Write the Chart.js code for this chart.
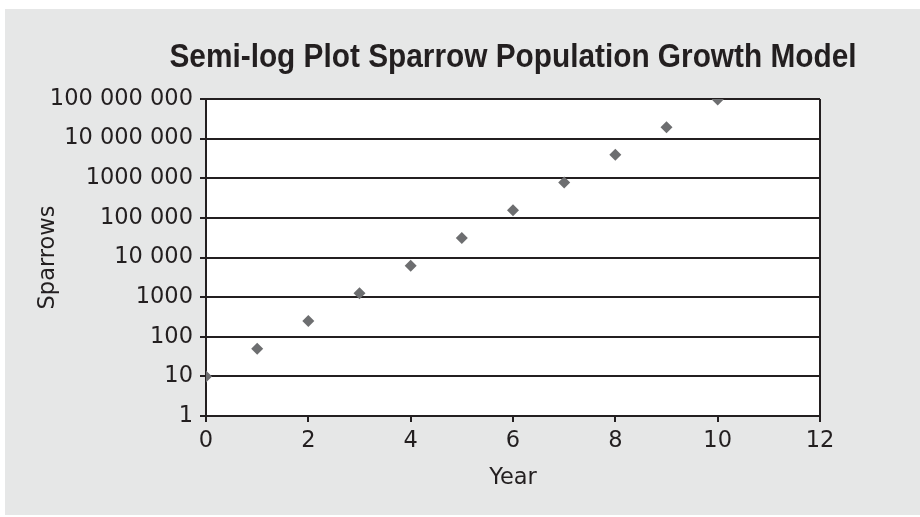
<!DOCTYPE html>
<html>
<head>
<meta charset="utf-8">
<script src="https://cdn.jsdelivr.net/npm/chart.js@4.4.0/dist/chart.umd.min.js"></script>
<style>
  html, body { margin: 0; padding: 0; background: #ffffff; }
  #wrap { width: 920px; height: 517px; }
</style>
</head>
<body>
<div id="wrap"><canvas id="sparrowChart" width="920" height="517"></canvas></div>
<script>
// data
const years = [0, 1, 2, 3, 4, 5, 6, 7, 8, 9, 10];
const sparrows = [10, 50, 250, 1250, 6200, 31000, 155000, 780000, 3900000, 19500000, 97000000];
const yTicks = [1, 10, 100, 1000, 10000, 100000, 1000000, 10000000, 100000000];
const yTickLabels = ['1', '10', '100', '1000', '10 000', '100 000', '1000 000', '10 000 000', '100 000 000'];
const xTicks = [0, 2, 4, 6, 8, 10, 12];
const chartTitle = 'Semi-log Plot Sparrow Population Growth Model';

const ink = '#231f20';
const tickFont = { family: "'DejaVu Sans', 'Open Sans', sans-serif", size: 22.5 };

// gray panel, white plot area, right edge and the condensed title
const framePlugin = {
    id: 'frame',
    beforeDraw(chart) {
        const ctx = chart.ctx;
        const a = chart.chartArea;
        ctx.save();
        ctx.fillStyle = '#ffffff';
        ctx.fillRect(0, 0, chart.width, chart.height);
        ctx.fillStyle = '#e6e7e7';
        ctx.fillRect(5, 9, chart.width - 5, 506);
        ctx.fillStyle = '#ffffff';
        ctx.fillRect(a.left, a.top, a.right - a.left, a.bottom - a.top);
        ctx.restore();
    },
    afterDatasetsDraw(chart) {
        const ctx = chart.ctx;
        const a = chart.chartArea;
        ctx.save();
        ctx.strokeStyle = ink;
        ctx.lineWidth = 2;
        ctx.beginPath();
        ctx.moveTo(a.right, a.top);
        ctx.lineTo(a.right, a.bottom);
        ctx.stroke();

        // title centred over the plot, squeezed to look condensed
        ctx.fillStyle = ink;
        ctx.font = "bold 33px 'Liberation Sans', Arial, sans-serif";
        ctx.textAlign = 'center';
        ctx.textBaseline = 'alphabetic';
        ctx.fillText(chartTitle, (a.left + a.right) / 2, 67, 687);
        ctx.restore();
    }
};

const ctx = document.getElementById('sparrowChart').getContext('2d');
const sparrowChart = new Chart(ctx, {
    type: 'scatter',
    data: {
        datasets: [{
            label: 'Sparrows',
            data: years.map((x, i) => ({ x: x, y: sparrows[i] })),
            pointStyle: 'rectRot',
            pointRadius: 6,
            pointHoverRadius: 6,
            backgroundColor: '#6d6e70',
            borderColor: '#6d6e70',
            borderWidth: 0
        }]
    },
    options: {
        responsive: false,
        animation: false,
        layout: {
            padding: { left: 0, right: 100, top: 99, bottom: 0 }
        },
        plugins: {
            legend: { display: false },
            tooltip: { enabled: false },
            title: { display: false }
        },
        scales: {
            x: {
                type: 'linear',
                min: 0,
                max: 12,
                afterBuildTicks: s => { s.ticks = xTicks.map(v => ({ value: v })); },
                afterFit: s => { s.height = 101; },
                ticks: { color: ink, font: tickFont, padding: 6, maxRotation: 0 },
                grid: { drawOnChartArea: false, drawTicks: true, tickLength: 6, color: ink, lineWidth: 2 },
                border: { display: true, color: ink, width: 2 },
                title: {
                    display: true,
                    text: 'Year',
                    color: ink,
                    font: tickFont,
                    padding: { top: 0, bottom: 25 }
                }
            },
            y: {
                type: 'logarithmic',
                min: 1,
                max: 100000000,
                afterBuildTicks: s => { s.ticks = yTicks.map(v => ({ value: v })); },
                afterFit: s => { s.width = 206; },
                ticks: {
                    color: ink,
                    font: tickFont,
                    padding: 7,
                    callback: (v) => {
                        const i = yTicks.indexOf(v);
                        return i >= 0 ? yTickLabels[i] : '';
                    }
                },
                grid: { drawOnChartArea: true, drawTicks: true, tickLength: 6, color: ink, lineWidth: 2 },
                border: { display: true, color: ink, width: 2 },
                title: {
                    display: true,
                    text: 'Sparrows',
                    color: ink,
                    font: tickFont,
                    padding: { top: 35, bottom: 0 }
                }
            }
        }
    },
    plugins: [framePlugin]
});
</script>
</body>
</html>
